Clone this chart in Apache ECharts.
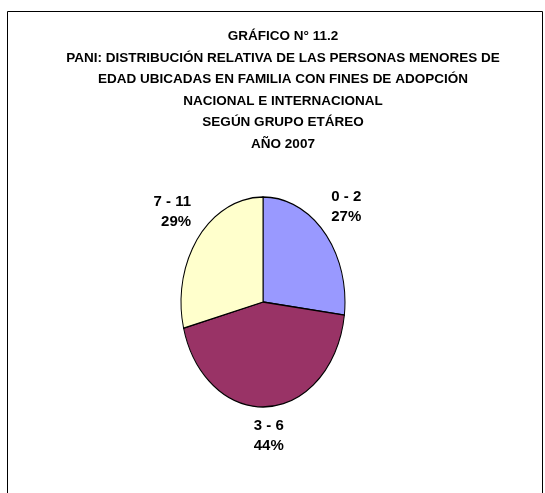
<!DOCTYPE html>
<html>
<head>
<meta charset="utf-8">
<script src="https://cdn.jsdelivr.net/npm/echarts@6/dist/echarts.min.js"></script>
<style>
html,body{margin:0;padding:0;background:#fff;}
#c{width:545px;height:493px;}
</style>
</head>
<body>
<div id="c"></div>
<script>
// ---- data ----
const categories = ['0 - 2', '3 - 6', '7 - 11'];
const values = [27, 44, 29];
const titleLines = [
  'GRÁFICO N° 11.2',
  'PANI: DISTRIBUCIÓN RELATIVA DE LAS PERSONAS MENORES DE',
  'EDAD UBICADAS EN FAMILIA CON FINES DE ADOPCIÓN',
  'NACIONAL E INTERNACIONAL',
  'SEGÚN GRUPO ETÁREO',
  'AÑO 2007'
];

// ---- layout / style ----
const colors = ['#9999FF', '#993366', '#FFFFCC'];
const CX = 263, CY = 302, RX = 82, RY = 105;
const LABEL_GAP = 9;
const FONT = '"Liberation Sans", Arial, sans-serif';

const total = values.reduce((a, b) => a + b, 0);
const cum = [];
values.reduce((acc, v, i) => { cum[i] = acc; return acc + v; }, 0);

const chart = echarts.init(document.getElementById('c'), null, {renderer: 'canvas'});

function renderItem(params, api) {
  const i = params.dataIndex;
  const f0 = cum[i] / total, f1 = (cum[i] + values[i]) / total;
  const a0 = -Math.PI / 2 + f0 * 2 * Math.PI;
  const a1 = -Math.PI / 2 + f1 * 2 * Math.PI;
  const mid = (f0 + f1) / 2 * 2 * Math.PI;
  const s = Math.sin(mid), c = Math.cos(mid);
  const ex = CX + RX * s, ey = CY - RY * c;
  const lx = ex + LABEL_GAP * s, ly = ey - LABEL_GAP * c;
  const align = s > 0.3 ? 'left' : (s < -0.3 ? 'right' : 'center');
  const valign = c > 0.3 ? 'bottom' : (c < -0.3 ? 'top' : 'middle');
  const pct = Math.round(values[i] / total * 100) + '%';
  return {
    type: 'group',
    children: [
      {
        type: 'group',
        x: CX, y: CY, scaleY: RY / RX,
        children: [{
          type: 'sector',
          shape: {cx: 0, cy: 0, r0: 0, r: RX, startAngle: a0, endAngle: a1, clockwise: true},
          style: {fill: colors[i], stroke: '#000', lineWidth: 1, strokeNoScale: true}
        }]
      },
      {
        type: 'text',
        x: lx, y: ly,
        style: {
          text: categories[i] + '\n' + pct,
          align: align, verticalAlign: valign,
          textAlign: align, textVerticalAlign: valign,
          font: 'bold 15px ' + FONT,
          lineHeight: 20,
          fill: '#000'
        }
      }
    ]
  };
}

const option = {
  animation: false,
  backgroundColor: '#fff',
  graphic: [
    {
      type: 'rect',
      shape: {x: 7.5, y: 11.5, width: 535, height: 520},
      style: {fill: 'none', stroke: '#000', lineWidth: 1},
      silent: true
    },
    {
      type: 'text',
      x: 283, y: 26,
      style: {
        text: titleLines.join('\n'),
        align: 'center', verticalAlign: 'top',
        textAlign: 'center', textVerticalAlign: 'top',
        font: 'bold 13.5px ' + FONT,
        lineHeight: 21.5,
        fill: '#000'
      }
    }
  ],
  series: [{
    type: 'custom',
    coordinateSystem: 'none',
    renderItem: renderItem,
    data: values.map((v, i) => ({name: categories[i], value: v}))
  }]
};
chart.setOption(option);
</script>
</body>
</html>
